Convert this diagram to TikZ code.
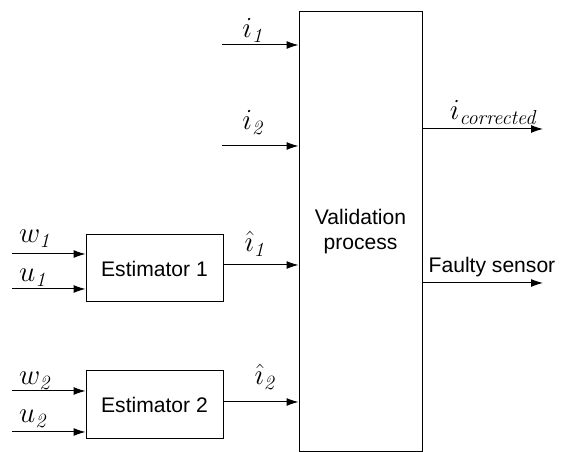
\documentclass[tikz,border=0pt]{standalone}
\usepackage[no-math]{fontspec}
\setmainfont{Liberation Sans}
\usetikzlibrary{arrows.meta}
\begin{document}
\begin{tikzpicture}[
	every node/.style={font=\fontsize{15}{18}\selectfont},
	block/.style={draw, line width=0.7pt, inner sep=0pt},
	sig/.style={line width=0.7pt, -{Latex[length=0.3cm,width=0.2cm]}},
	lab/.style={inner sep=0pt, anchor=base, font=\fontsize{20}{24}\selectfont}]
	
		%%Location
		\useasboundingbox (0,0) rectangle (14.025,11.3);
		
		%%Boxes
		\node[block, minimum width=3.075cm, minimum height=10.975cm, align=center] (val) at (9.0125,5.5125) {Validation\\process};
		\node[block, minimum width=3.425cm, minimum height=1.675cm] (est1) at (3.8625,4.5875) {Estimator 1};
		\node[block, minimum width=3.425cm, minimum height=1.7cm] (est2) at (3.8625,1.175) {Estimator 2};
		
		%%Inputs
		\coordinate (w1) at (0.3,4.95);
		\coordinate (u1) at (0.3,4.075);
		\coordinate (w2) at (0.3,1.525);
		\coordinate (u2) at (0.3,0.5);
		\coordinate (i1) at (5.55,10.175);
		\coordinate (i2) at (5.55,7.65);
		\coordinate (h1) at (5.575,4.675);
		\coordinate (h2) at (5.575,1.25);
		
		%%Outputs
		\coordinate (ic) at (10.55,8.075);
		\coordinate (fs) at (10.55,4.225);
		\coordinate (icend) at (13.575,8.075);
		\coordinate (fsend) at (13.575,4.225);
		
		%%Arrows
		\draw[sig] (w1) -- (w1 -| est1.west);
		\draw[sig] (u1) -- (u1 -| est1.west);
		\draw[sig] (w2) -- (w2 -| est2.west);
		\draw[sig] (u2) -- (u2 -| est2.west);
		\draw[sig] (i1) -- (i1 -| val.west);
		\draw[sig] (i2) -- (i2 -| val.west);
		\draw[sig] (h1) -- (h1 -| val.west);
		\draw[sig] (h2) -- (h2 -| val.west);
		\draw[sig] (ic) -- (icend);
		\draw[sig] (fs) -- (fsend);
		
		%%Label
		\node[lab] (lw1) at (0.9,5.225) {$w_{\mathit{1}}$};
		\node[lab] (lu1) at (0.85,4.25) {$u_{\mathit{1}}$};
		\node[lab] (lw2) at (0.9,1.675) {$w_{\mathit{2}}$};
		\node[lab] (lu2) at (0.85,0.725) {$u_{\mathit{2}}$};
		\node[lab] (li1) at (6.35,10.35) {$i_{\mathit{1}}$};
		\node[lab] (li2) at (6.35,8.05) {$i_{\mathit{2}}$};
		\node[lab] (lh1) at (6.4,5.0) {$\hat{\imath}_{\mathit{1}}$};
		\node[lab] (lh2) at (6.65,1.675) {$\hat{\imath}_{\mathit{2}}$};
		\node[lab] (lic) at (12.35,8.3) {$i_{\mathit{corrected}}$};
		\node[anchor=base, inner sep=0pt] (lfs) at (12.3,4.475) {Faulty sensor};
	\end{tikzpicture}
\end{document}
